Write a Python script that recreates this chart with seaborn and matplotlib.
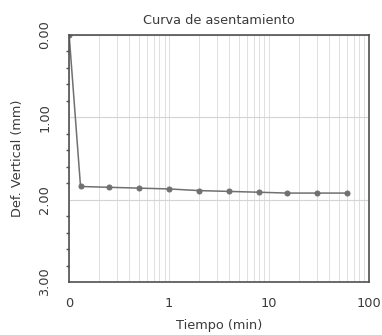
import matplotlib
matplotlib.use("Agg")
import matplotlib.pyplot as plt
import matplotlib.ticker as mticker
import numpy as np
import pandas as pd
import seaborn as sns

# Settlement readings: elapsed time (min) and vertical deformation (mm)
tiempo = [0.1, 0.13, 0.25, 0.5, 1, 2, 4, 8, 15, 30, 60]
deformacion = [0.00, 1.84, 1.85, 1.86, 1.87, 1.89, 1.90, 1.91, 1.92, 1.92, 1.92]

x_ticks = [0.1, 1, 10, 100]
x_tick_labels = ["0", "1", "10", "100"]
y_ticks = [0.0, 1.0, 2.0, 3.0]
y_tick_labels = ["0.00", "1.00", "2.00", "3.00"]

sns.set_style("white")
plt.rcParams["font.family"] = ["DejaVu Sans"]

df = pd.DataFrame({"Tiempo": tiempo, "Def": deformacion})

fig = plt.figure(figsize=(3.82, 3.35), dpi=100)
ax = fig.add_axes([0.181, 0.158, 0.785, 0.738])

sns.lineplot(data=df, x="Tiempo", y="Def", ax=ax, color="#707070",
             linewidth=1.1, marker="o", markersize=3.6,
             markeredgecolor="#707070", markerfacecolor="#707070",
             estimator=None, sort=False)

ax.set_xscale("log")
ax.set_xlim(0.1, 100)
ax.set_ylim(3.0, 0.0)

ax.set_xticks(x_ticks)
ax.set_xticklabels(x_tick_labels)
ax.xaxis.set_minor_locator(mticker.LogLocator(base=10, subs=np.arange(2, 10)))
ax.xaxis.set_minor_formatter(mticker.NullFormatter())

ax.set_yticks(y_ticks)
ax.set_yticklabels(y_tick_labels, rotation=90, va="center")
ax.yaxis.set_minor_locator(mticker.MultipleLocator(0.2))

ax.grid(which="major", axis="y", color="#d4d4d4", linewidth=0.8)
ax.grid(which="both", axis="x", color="#e0e0e0", linewidth=0.7)

for s in ax.spines.values():
    s.set_color("#505050")
    s.set_linewidth(1.2)

ax.tick_params(axis="x", which="major", direction="out", length=3,
               width=1, color="#505050", labelsize=9.3, labelcolor="#3a3a3a", pad=7.5)
ax.tick_params(axis="y", which="major", direction="out", length=3,
               width=1, color="#505050", labelsize=9.3, labelcolor="#3a3a3a", pad=10)
ax.tick_params(axis="y", which="minor", direction="out", length=2,
               width=1, color="#505050", left=True)
ax.tick_params(axis="x", which="minor", length=0)

ax.set_xlabel("Tiempo (min)", fontsize=9.3, color="#3a3a3a", labelpad=7)
ax.set_ylabel("Def. Vertical (mm)", fontsize=9.3, color="#3a3a3a", labelpad=10)
ax.set_title("Curva de asentamiento", fontsize=9.3, color="#3a3a3a", pad=8)

fig.savefig("out.png", dpi=100)
